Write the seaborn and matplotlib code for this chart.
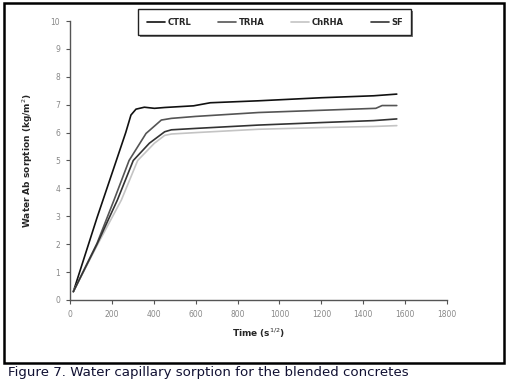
import numpy as np
import pandas as pd
import matplotlib.pyplot as plt
import seaborn as sns
from matplotlib.patches import Rectangle

# Data (time in s^1/2, sorption in kg/m2)
series_names = ['CTRL', 'TRHA', 'ChRHA', 'SF']
series_colors = ['#111111', '#555555', '#c4c4c4', '#333333']

ctrl_t = [16, 129, 210, 266, 291, 315, 355, 403, 452, 590, 670, 900, 1200, 1450, 1560]
ctrl_w = [0.3, 2.95, 4.75, 6.0, 6.63, 6.84, 6.91, 6.87, 6.9, 6.96, 7.07, 7.14, 7.25, 7.32, 7.38]

trha_t = [16, 129, 210, 282, 363, 436, 484, 600, 900, 1200, 1460, 1490, 1560]
trha_w = [0.3, 2.03, 3.58, 5.0, 5.97, 6.45, 6.51, 6.58, 6.72, 6.8, 6.87, 6.97, 6.97]

chrha_t = [16, 129, 245, 323, 403, 452, 485, 600, 900, 1200, 1450, 1560]
chrha_w = [0.3, 1.95, 3.58, 5.0, 5.62, 5.9, 5.95, 6.0, 6.12, 6.18, 6.22, 6.25]

sf_t = [16, 129, 226, 302, 379, 452, 484, 600, 900, 1200, 1450, 1560]
sf_w = [0.3, 2.0, 3.58, 5.0, 5.62, 6.03, 6.1, 6.15, 6.27, 6.36, 6.43, 6.49]

x_ticks = list(range(0, 1801, 200))
y_ticks = list(range(0, 11))

series_t = [ctrl_t, trha_t, chrha_t, sf_t]
series_w = [ctrl_w, trha_w, chrha_w, sf_w]

sns.set_style("white")

fig = plt.figure(figsize=(5.08, 3.82), dpi=100)
ax = fig.add_axes([0.1378, 0.2147, 0.7422, 0.7303])

for name, color, t, w in zip(series_names, series_colors, series_t, series_w):
    df = pd.DataFrame({'t': t, 'w': w})
    sns.lineplot(data=df, x='t', y='w', ax=ax, color=color, linewidth=1.2,
                 label=name, sort=False, estimator=None)

ax.set_xlim(0, 1800)
ax.set_ylim(0, 10)
ax.set_xticks(x_ticks)
ax.set_yticks(y_ticks)
ax.tick_params(axis='both', direction='out', length=3, width=0.8, color='#555555',
               labelsize=5.5, labelcolor='#888888', left=True, bottom=True, pad=4)
for side in ['top', 'right']:
    ax.spines[side].set_visible(False)
for side in ['left', 'bottom']:
    ax.spines[side].set_color('#555555')
    ax.spines[side].set_linewidth(1.0)

ax.set_xlabel('Time (s$^{1/2}$)', fontsize=6.5, fontweight='bold', labelpad=6)
ax.set_ylabel('Water Ab sorption (kg/m$^{2}$)', fontsize=6.5, fontweight='bold', labelpad=11)

# Legend in a framed box across the top
leg = ax.legend(loc='center', bbox_to_anchor=(0.541, 0.942), bbox_transform=fig.transFigure,
                ncol=4, frameon=True, fancybox=False, shadow=False,
                framealpha=1, facecolor='white',
                edgecolor='#222222', handlelength=2.2, handletextpad=0.3,
                columnspacing=3.2, borderpad=1.0, prop={'weight': 'bold', 'size': 6})
leg.get_frame().set_linewidth(1.0)
leg.set_zorder(5)

# thin drop shadow under the legend box
fig.canvas.draw()
bb = leg.get_frame().get_window_extent().transformed(fig.transFigure.inverted())
dx, dy = 2 / 508, 2 / 382
ax.add_patch(Rectangle((bb.x0 + dx, bb.y0 - dy), bb.width, bb.height,
                       transform=fig.transFigure, facecolor='#777777',
                       edgecolor='none', zorder=4.5, clip_on=False))

# Outer frame around the chart
fig.patches.append(Rectangle((0.008, 0.05), 0.984, 0.942, transform=fig.transFigure,
                             fill=False, edgecolor='black', linewidth=1.8))

fig.text(0.016, 0.026, 'Figure 7. Water capillary sorption for the blended concretes',
         fontsize=9.6, color='#111133', ha='left', va='center')

fig.savefig('out.png', dpi=100)
